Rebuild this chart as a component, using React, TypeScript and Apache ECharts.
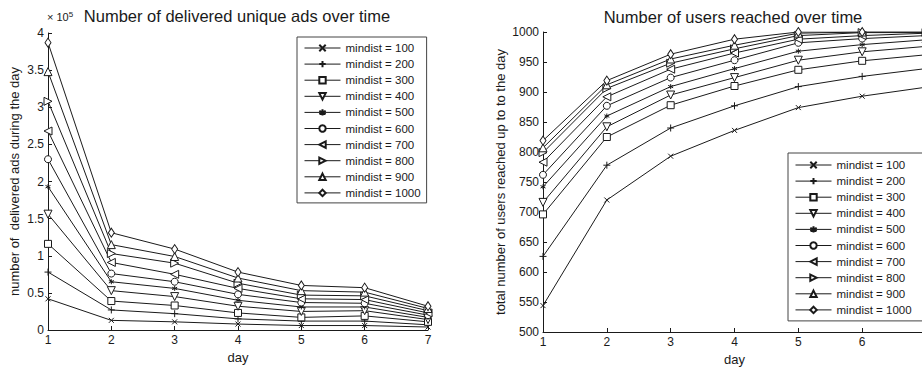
import React, { useEffect, useRef } from "react";
import * as echarts from "echarts";

const days = [1, 2, 3, 4, 5, 6, 7];
const mindists = [100, 200, 300, 400, 500, 600, 700, 800, 900, 1000];

// delivered unique ads per day, in units of 10^5
const ads100 = [0.42, 0.13, 0.11, 0.08, 0.06, 0.06, 0.04];
const ads200 = [0.78, 0.27, 0.22, 0.15, 0.12, 0.12, 0.07];
const ads300 = [1.16, 0.39, 0.33, 0.23, 0.17, 0.19, 0.11];
const ads400 = [1.56, 0.53, 0.45, 0.32, 0.25, 0.26, 0.14];
const ads500 = [1.93, 0.65, 0.56, 0.4, 0.31, 0.31, 0.17];
const ads600 = [2.3, 0.76, 0.65, 0.48, 0.37, 0.36, 0.2];
const ads700 = [2.68, 0.91, 0.75, 0.56, 0.42, 0.41, 0.23];
const ads800 = [3.08, 1.03, 0.9, 0.63, 0.47, 0.46, 0.26];
const ads900 = [3.48, 1.15, 0.99, 0.7, 0.53, 0.51, 0.29];
const ads1000 = [3.87, 1.31, 1.09, 0.78, 0.6, 0.57, 0.32];

// total users reached up to the day
const users100 = [544, 720, 793, 836, 874, 893, 908];
const users200 = [626, 778, 840, 877, 909, 926, 939];
const users300 = [696, 825, 878, 910, 937, 952, 962];
const users400 = [716, 842, 895, 924, 953, 967, 976];
const users500 = [742, 860, 909, 939, 968, 979, 987];
const users600 = [762, 877, 924, 953, 982, 989, 994];
const users700 = [783, 892, 938, 965, 988, 994, 998];
const users800 = [799, 906, 948, 972, 994, 999, 999];
const users900 = [807, 912, 955, 978, 998, 1000, 1000];
const users1000 = [819, 919, 963, 988, 1000, 1000, 1000];

const adsSeries = [ads100, ads200, ads300, ads400, ads500, ads600, ads700, ads800, ads900, ads1000];
const usersSeries = [users100, users200, users300, users400, users500, users600, users700, users800, users900, users1000];

const adsTicks = [0, 0.5, 1, 1.5, 2, 2.5, 3, 3.5, 4];
const usersTicks = [500, 550, 600, 650, 700, 750, 800, 850, 900, 950, 1000];

const markers: { symbol: string; rotate: number; size: any; fill: string }[] = [
  { symbol: "path://M0,0L10,10M10,0L0,10", rotate: 0, size: 5, fill: "#fff" },
  { symbol: "path://M5,0L5,10M0,5L10,5", rotate: 0, size: 7, fill: "#fff" },
  { symbol: "rect", rotate: 0, size: 7, fill: "#fff" },
  { symbol: "triangle", rotate: 180, size: 8, fill: "#fff" },
  { symbol: "path://M5,0L5,10M0.7,2.5L9.3,7.5M0.7,7.5L9.3,2.5", rotate: 0, size: 5, fill: "#000" },
  { symbol: "circle", rotate: 0, size: 7, fill: "#fff" },
  { symbol: "triangle", rotate: 90, size: 8, fill: "#fff" },
  { symbol: "triangle", rotate: -90, size: 8, fill: "#fff" },
  { symbol: "triangle", rotate: 0, size: 8, fill: "#fff" },
  { symbol: "diamond", rotate: 0, size: [6, 9], fill: "#fff" },
];

const FONT = "'Liberation Sans', Arial, sans-serif";
const INK = "#1a1a1a";

export default function App() {
  const ref = useRef<HTMLDivElement>(null);
  useEffect(() => {
    if (!ref.current) return;
    const chart = echarts.init(ref.current, undefined, { renderer: "svg" });
    const names = mindists.map((m) => `mindist = ${m}`);

    const makeSeries = (vals: number[][], axis: number) =>
      vals.map((arr, i) => ({
        type: "line",
        name: names[i],
        xAxisIndex: axis,
        yAxisIndex: axis,
        data: days.map((d, j) => [d, arr[j]]),
        symbol: markers[i].symbol,
        symbolRotate: markers[i].rotate,
        symbolSize: markers[i].size,
        showAllSymbol: true,
        lineStyle: { color: INK, width: 1 },
        itemStyle: { color: markers[i].fill, borderColor: INK, borderWidth: 1 },
        emphasis: { disabled: true },
        z: 2,
      }));

    const axisCommon = {
      axisLine: { show: true, lineStyle: { color: INK, width: 1 } },
      axisTick: { show: true, inside: true, length: 4, lineStyle: { color: INK } },
      splitLine: { show: false },
      axisLabel: { color: INK, fontFamily: FONT, fontSize: 12, margin: 4, formatter: (v: number) => String(v) },
      nameTextStyle: { color: INK, fontFamily: FONT, fontSize: 13 },
    };

    const legendCommon = {
      orient: "vertical",
      itemWidth: 36,
      itemHeight: 8,
      itemGap: 4.1,
      borderColor: "#444",
      borderWidth: 1,
      backgroundColor: "#fff",
      borderRadius: 0,
      selectedMode: false,
      textStyle: { color: INK, fontFamily: FONT, fontSize: 11.5 },
      lineStyle: { color: INK, width: 1 },
      iconRotate: "inherit",
      data: names,
    };

    chart.setOption({
      animation: false,
      backgroundColor: "#fff",
      grid: [
        { left: 48, top: 33, width: 380, height: 297, outerBoundsMode: "none", containLabel: false },
        { left: 543, top: 32, width: 383, height: 300, outerBoundsMode: "none", containLabel: false },
      ],
      xAxis: [
        {
          ...axisCommon,
          gridIndex: 0,
          type: "value",
          min: 1,
          max: 7,
          interval: 1,
          name: "day",
          nameLocation: "middle",
          nameGap: 21,
        },
        {
          ...axisCommon,
          axisLabel: { ...axisCommon.axisLabel, showMaxLabel: false },
          gridIndex: 1,
          type: "value",
          min: 1,
          max: 7,
          interval: 1,
          name: "day",
          nameLocation: "middle",
          nameGap: 21,
        },
      ],
      yAxis: [
        {
          ...axisCommon,
          gridIndex: 0,
          type: "value",
          min: adsTicks[0],
          max: adsTicks[adsTicks.length - 1],
          interval: 0.5,
          name: "number of  delivered ads during the day",
          nameLocation: "middle",
          nameGap: 27,
        },
        {
          ...axisCommon,
          gridIndex: 1,
          type: "value",
          min: usersTicks[0],
          max: usersTicks[usersTicks.length - 1],
          interval: 50,
          name: "total number of users reached up to to the day",
          nameLocation: "middle",
          nameGap: 36,
        },
      ],
      legend: [
        { ...legendCommon, left: 297, top: 37, padding: [5, 6, 4, 7] },
        { ...legendCommon, left: 788, top: 153, padding: [6, 12, 5, 7] },
      ],
      graphic: [
        {
          type: "text",
          x: 237,
          y: 16,
          style: {
            text: "Number of delivered unique ads over time",
            textAlign: "center",
            textVerticalAlign: "middle",
            fontFamily: FONT,
            fontSize: 16.5,
            fill: INK,
          },
        },
        {
          type: "text",
          x: 733,
          y: 17,
          style: {
            text: "Number of users reached over time",
            textAlign: "center",
            textVerticalAlign: "middle",
            fontFamily: FONT,
            fontSize: 16.5,
            fill: INK,
          },
        },
        {
          type: "text",
          x: 47,
          y: 10,
          style: {
            text: "× 10{s|5}",
            fontFamily: FONT,
            fontSize: 11,
            fill: INK,
            rich: { s: { fontSize: 8, verticalAlign: "top", padding: [0, 0, 5, 0], fontFamily: FONT, fill: INK } },
          },
        },
      ],
      series: [...makeSeries(adsSeries, 0), ...makeSeries(usersSeries, 1)],
    });
    return () => chart.dispose();
  }, []);
  return (
    <div
      ref={ref}
      style={{ position: "absolute", left: 0, top: 0, width: 922, height: 369, background: "#fff" }}
    />
  );
}
